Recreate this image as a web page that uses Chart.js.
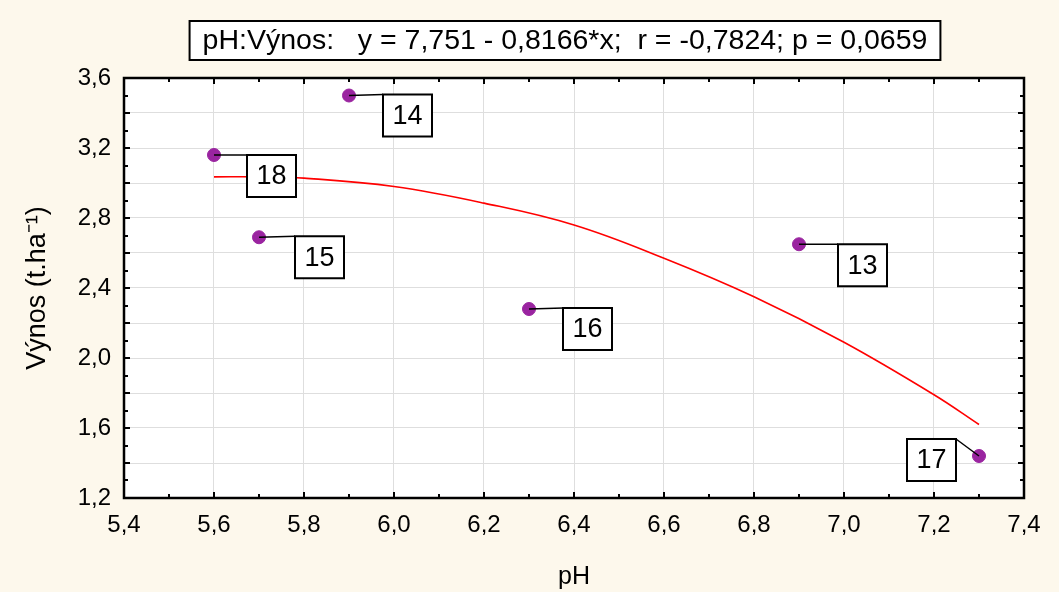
<!DOCTYPE html>
<html>
<head>
<meta charset="utf-8">
<script src="https://cdn.jsdelivr.net/npm/chart.js@4"></script>
<style>
  html, body { margin: 0; padding: 0; background: #fdf8ec; }
  #wrap { width: 1059px; height: 592px; }
</style>
</head>
<body>
<div id="wrap"><canvas id="chart" width="1059" height="592"></canvas></div>
<script>
// point data (pH vs. yield), labels are plot numbers
const plotIds = ['13', '14', '15', '16', '17', '18'];
const phValues = [6.9, 5.9, 5.7, 6.3, 7.3, 5.6];
const yieldValues = [2.65, 3.50, 2.69, 2.28, 1.44, 3.16];

// fitted curve
const fitPh = [5.6, 5.7, 5.8, 6.0, 6.2, 6.4, 6.6, 6.8, 7.0, 7.2, 7.3];
const fitYield = [3.035, 3.035, 3.028, 2.98, 2.885, 2.76, 2.57, 2.35, 2.09, 1.79, 1.62];

const headline = 'pH:Výnos:   y = 7,751 - 0,8166*x;  r = -0,7824; p = 0,0659';
const xTitle = 'pH';
const yTitle = 'Výnos (t.ha⁻¹)';

const FONT = '"Liberation Sans", Arial, sans-serif';

// box offsets for labels (top-left corner, relative to the point)
const labelOffsets = {
  '13': [39, 0], '14': [34, -1], '15': [36, -1],
  '16': [34, -1], '17': [-72, -17], '18': [33, 0]
};

const comma = v => v.toFixed(1).replace('.', ',');

const framePlugin = {
  id: 'frame',
  beforeDraw(chart) {
    const { ctx, chartArea: a } = chart;
    ctx.save();
    ctx.fillStyle = '#fdf8ec';
    ctx.fillRect(0, 0, chart.width, chart.height);
    ctx.fillStyle = '#ffffff';
    ctx.fillRect(a.left, a.top, a.right - a.left, a.bottom - a.top);
    ctx.restore();
  },
  afterDatasetsDraw(chart) {
    const { ctx, chartArea: a, scales } = chart;
    const x = scales.x, y = scales.y;
    ctx.save();
    // inward tick marks on all four sides
    ctx.strokeStyle = '#000';
    ctx.lineWidth = 2;
    for (let i = 0; i <= 20; i++) {
      const v = 5.4 + i * 0.1;
      const px = Math.round(x.getPixelForValue(v));
      const len = i % 2 === 0 ? 6 : 4;
      ctx.beginPath();
      ctx.moveTo(px, a.bottom); ctx.lineTo(px, a.bottom - len);
      ctx.moveTo(px, a.top); ctx.lineTo(px, a.top + len);
      ctx.stroke();
    }
    for (let i = 0; i <= 24; i++) {
      const v = 1.2 + i * 0.1;
      const py = Math.round(y.getPixelForValue(v));
      const len = i % 2 === 0 ? 6 : 4;
      ctx.beginPath();
      ctx.moveTo(a.left, py); ctx.lineTo(a.left + len, py);
      ctx.moveTo(a.right, py); ctx.lineTo(a.right - len, py);
      ctx.stroke();
    }
    ctx.lineWidth = 2.5;
    ctx.strokeRect(a.left, a.top, a.right - a.left, a.bottom - a.top);

    // point labels with leader lines
    const meta = chart.getDatasetMeta(1);
    ctx.font = '27px ' + FONT;
    ctx.textAlign = 'center';
    ctx.textBaseline = 'middle';
    const bw = 49, bh = 42;
    meta.data.forEach((pt, i) => {
      const id = plotIds[i];
      const [dx, dy] = labelOffsets[id];
      const bx = pt.x + dx, by = pt.y + dy;
      const ax = dx < 0 ? bx + bw : bx;
      ctx.strokeStyle = '#000';
      ctx.lineWidth = 1.5;
      ctx.beginPath();
      ctx.moveTo(pt.x, pt.y);
      ctx.lineTo(ax, by);
      ctx.stroke();
      ctx.fillStyle = '#fff';
      ctx.fillRect(bx, by, bw, bh);
      ctx.lineWidth = 2;
      ctx.strokeRect(bx, by, bw, bh);
      ctx.fillStyle = '#000';
      ctx.fillText(id, bx + bw / 2, by + bh / 2 + 1);
    });

    // headline box
    ctx.font = '28.5px ' + FONT;
    const tw = ctx.measureText(headline).width;
    const cx = 565;
    ctx.fillStyle = '#fff';
    ctx.fillRect(cx - tw / 2 - 13, 21, tw + 26, 39);
    ctx.lineWidth = 2;
    ctx.strokeRect(cx - tw / 2 - 13, 21, tw + 26, 39);
    ctx.fillStyle = '#000';
    ctx.fillText(headline, cx, 41);
    ctx.restore();
  }
};

new Chart(document.getElementById('chart'), {
  type: 'scatter',
  data: {
    datasets: [
      {
        type: 'line',
        data: fitPh.map((v, i) => ({ x: v, y: fitYield[i] })),
        borderColor: '#ff0000',
        borderWidth: 1.6,
        pointRadius: 0,
        tension: 0.4,
        fill: false
      },
      {
        data: phValues.map((v, i) => ({ x: v, y: yieldValues[i] })),
        backgroundColor: '#9a24a0',
        borderColor: '#9a24a0',
        pointRadius: 6.5,
        pointHoverRadius: 6.5
      }
    ]
  },
  options: {
    responsive: false,
    animation: false,
    layout: { padding: { top: 78, right: 35, left: 0, bottom: 0 } },
    plugins: { legend: { display: false }, tooltip: { enabled: false } },
    scales: {
      x: {
        type: 'linear',
        min: 5.4, max: 7.4,
        border: { display: false },
        grid: { color: '#dedede', lineWidth: 1, drawTicks: false },
        ticks: {
          stepSize: 0.2, padding: 13, color: '#000',
          font: { family: FONT, size: 24 },
          callback: v => comma(v)
        },
        title: {
          display: true, text: xTitle, color: '#000',
          font: { family: FONT, size: 25 }, padding: { top: 10, bottom: 0 }
        },
        afterFit: s => { s.height = 94; }
      },
      y: {
        type: 'linear',
        min: 1.2, max: 3.6,
        border: { display: false },
        grid: { color: '#dedede', lineWidth: 1, drawTicks: false },
        ticks: {
          stepSize: 0.2, padding: 13, color: '#000',
          font: { family: FONT, size: 24 },
          callback: v => (Math.round(v * 10) % 4 === 0 ? comma(v) : '')
        },
        title: {
          display: true, text: yTitle, color: '#000',
          font: { family: FONT, size: 27 }, padding: { top: 21, bottom: 0 }
        },
        afterFit: s => { s.width = 124; }
      }
    }
  },
  plugins: [framePlugin]
});
</script>
</body>
</html>
